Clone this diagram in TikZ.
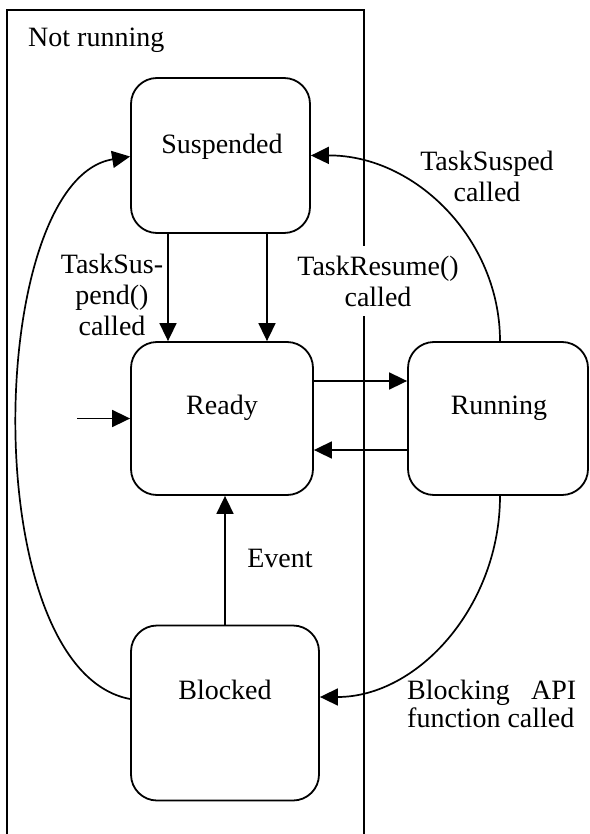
\documentclass[tikz,border=0pt]{standalone}
\usepackage{fontspec}
\setmainfont{Liberation Serif}
\usetikzlibrary{arrows.meta,calc}
\tikzset{
  state/.style={draw, line width=1.8pt, rounded corners=26pt, inner sep=0pt},
  arr/.style={line width=1.7pt, -{Triangle[length=18pt,width=17pt]}},
  lbl/.style={align=center, inner sep=0pt, font=\fontsize{28}{31}\selectfont},
  frame/.style={line width=1.8pt}
}
\begin{document}
\begin{tikzpicture}[x=1pt, y=-1pt]
\useasboundingbox (0,0) rectangle (589,834);

% "Not running" region
\draw[frame] (7,840) -- (7,10) -- (364,10) -- (364,840);
\node[lbl, anchor=west] (notrun) at (28,40) {Not running};

% states
\node[state, minimum width=179pt, minimum height=155pt] (susp) at (220.5,155.5) {};
\node[state, minimum width=182pt, minimum height=153pt] (ready) at (222,418.5) {};
\node[state, minimum width=180pt, minimum height=153pt] (run) at (498,418.5) {};
\node[state, minimum width=188pt, minimum height=175pt] (block) at (225,713) {};

\node[lbl] (tsusp) at (222,147) {Suspended};
\node[lbl] (tready) at (222,408) {Ready};
\node[lbl] (trun) at (499,408) {Running};
\node[lbl] (tblock) at (225,690) {Blocked};

% Suspended -> Ready
\coordinate (s1) at ($(susp.south)+(-52.5,0)$);
\coordinate (s2) at ($(susp.south)+(46.5,0)$);
\draw[arr] (s1) -- (s1 |- ready.north);
\draw[arr] (s2) -- (s2 |- ready.north);

% Ready <-> Running
\coordinate (h1) at ($(ready.east)+(0,-37.5)$);
\coordinate (h2) at ($(run.west)+(0,31.5)$);
\draw[arr] (h1) -- (h1 -| run.west);
\draw[arr] (h2) -- (h2 -| ready.east);

% initial transition
\coordinate (init) at (77,418.5);
\draw[arr] (init) -- (ready.west);

% Blocked -> Ready
\draw[arr] (block.north) -- (block.north |- ready.south);

% Blocked -> Suspended
\coordinate (b1) at ($(block.west)+(0,-14)$);
\coordinate (p1) at ($(susp.west)+(0,1)$);
\draw[arr] (b1) .. controls (-25,670) and (-15,180) .. (p1);

% Running -> Suspended
\coordinate (r1) at ($(run.north)+(2,0)$);
\draw[arr] (r1) .. controls (500,239) and (415,155) .. (susp.east);

% Running -> Blocked
\coordinate (r2) at ($(run.south)+(2,0)$);
\coordinate (b2) at ($(block.east)+(0,-16)$);
\draw[arr] (r2) .. controls (500,606) and (418,697) .. (b2);

% transition labels
\node[lbl] (l1) at (112,295) {TaskSus-\\pend()\\called};
\node[lbl, fill=white, inner ysep=10pt, inner xsep=2pt] (l2) at (378,281) {TaskResume()\\called};
\node[lbl] (l3) at (487,176) {TaskSusped\\called};
\node[lbl] (l4) at (280,558) {Event};
\node[lbl, align=left, anchor=west, font=\fontsize{28}{28}\selectfont] (l5) at (407,704)
  {\makebox[169pt][s]{Blocking API}\\function called};
\end{tikzpicture}
\end{document}
